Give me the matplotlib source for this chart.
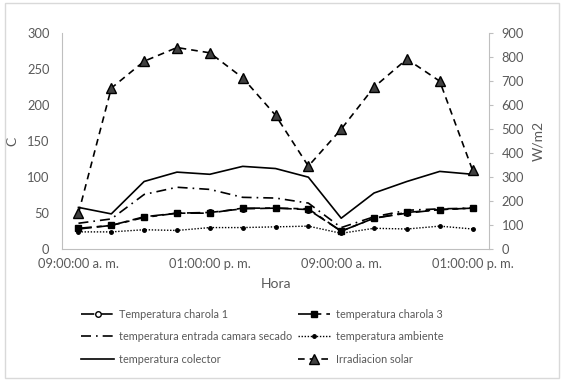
import matplotlib
matplotlib.use("Agg")
import matplotlib.pyplot as plt
from matplotlib.patches import Rectangle

plt.rcParams['font.family'] = ['Lato', 'DejaVu Sans']

# hourly readings over two days
horas = ["09:00:00 a. m.", "10:00:00 a. m.", "11:00:00 a. m.", "12:00:00 p. m.",
         "01:00:00 p. m.", "02:00:00 p. m.", "03:00:00 p. m.", "04:00:00 p. m.",
         "09:00:00 a. m.", "10:00:00 a. m.", "11:00:00 a. m.", "12:00:00 p. m.",
         "01:00:00 p. m."]
charola1 = [28, 33, 45, 50, 51, 56, 57, 55, 25, 43, 50, 55, 57]
charola3 = [29, 33, 44, 50, 50, 57, 57, 56, 25, 43, 51, 55, 57]
entrada = [36, 42, 76, 86, 83, 72, 71, 64, 30, 45, 54, 56, 57]
ambiente = [24, 24, 27, 26, 30, 30, 31, 32, 22, 29, 28, 32, 28]
colector = [58, 49, 94, 107, 104, 115, 112, 100, 43, 78, 94, 108, 104]
irradiacion = [150, 671, 783, 840, 818, 714, 558, 346, 500, 675, 792, 700, 329]

gray = "#595959"
spine = "#bfbfbf"
x = list(range(len(horas)))

fig = plt.figure(figsize=(5.64, 3.81), dpi=100)
ax = fig.add_axes([0.110, 0.346, 0.757, 0.567])
ax2 = ax.twinx()

lw = 1.2
h1, = ax.plot(x, charola1, color="black", lw=lw, dashes=(8, 3), marker="o",
              markersize=4, markerfacecolor="white", markeredgecolor="black",
              label="Temperatura charola 1")
h3, = ax.plot(x, charola3, color="black", lw=lw, dashes=(8, 3, 3, 3), marker="s",
              markersize=5, label="temperatura charola 3")
he, = ax.plot(x, entrada, color="black", lw=lw, dashes=(6, 3, 1, 3),
              label="temperatura entrada camara secado")
ha, = ax.plot(x, ambiente, color="black", lw=1.0, linestyle=(0, (1, 1.2)), marker="o",
              markersize=2.5, label="temperatura ambiente")
hc, = ax.plot(x, colector, color="black", lw=lw, label="temperatura colector")
hi, = ax2.plot(x, irradiacion, color="black", lw=lw, dashes=(4, 3), marker="^",
               markersize=7, markerfacecolor="#404040", markeredgecolor="black",
               label="Irradiacion solar")

ax.set_xlim(-0.5, len(horas) - 0.5)
ax.set_ylim(0, 300)
ax2.set_ylim(0, 900)
ax.set_yticks(range(0, 301, 50))
ax2.set_yticks(range(0, 901, 100))
ax.set_xticks(x[::4])
ax.set_xticklabels(horas[::4])

for a in (ax, ax2):
    for s in a.spines.values():
        s.set_visible(False)
    a.tick_params(colors=gray, labelsize=9.3)
ax.spines['left'].set_visible(True)
ax.spines['left'].set_color(spine)
ax.spines['bottom'].set_visible(True)
ax.spines['bottom'].set_color(spine)
ax2.spines['right'].set_visible(True)
ax2.spines['right'].set_color(spine)
ax.tick_params(axis='y', length=0, pad=9)
ax.tick_params(axis='x', length=0, pad=6)
ax2.tick_params(axis='y', length=3, color=spine, pad=6)

ax.set_ylabel("C", color=gray, fontsize=10, labelpad=6)
ax2.set_ylabel("W/m2", color=gray, fontsize=10, rotation=90, labelpad=6)
ax.set_xlabel("Hora", color=gray, fontsize=10, labelpad=6)

order = [h1, he, hc, h3, ha, hi]
fig.legend(order, [h.get_label() for h in order],
           ncol=2, loc="upper center", bbox_to_anchor=(0.465, 0.215),
           frameon=False, fontsize=7.8, labelcolor=gray,
           handlelength=3.0, columnspacing=0.5, labelspacing=1.05,
           handletextpad=0.5)

fig.patches.append(Rectangle((0.008, 0.008), 0.984, 0.984, transform=fig.transFigure,
                             fill=False, edgecolor="#d9d9d9", lw=1))

fig.savefig("out.png", dpi=100)
